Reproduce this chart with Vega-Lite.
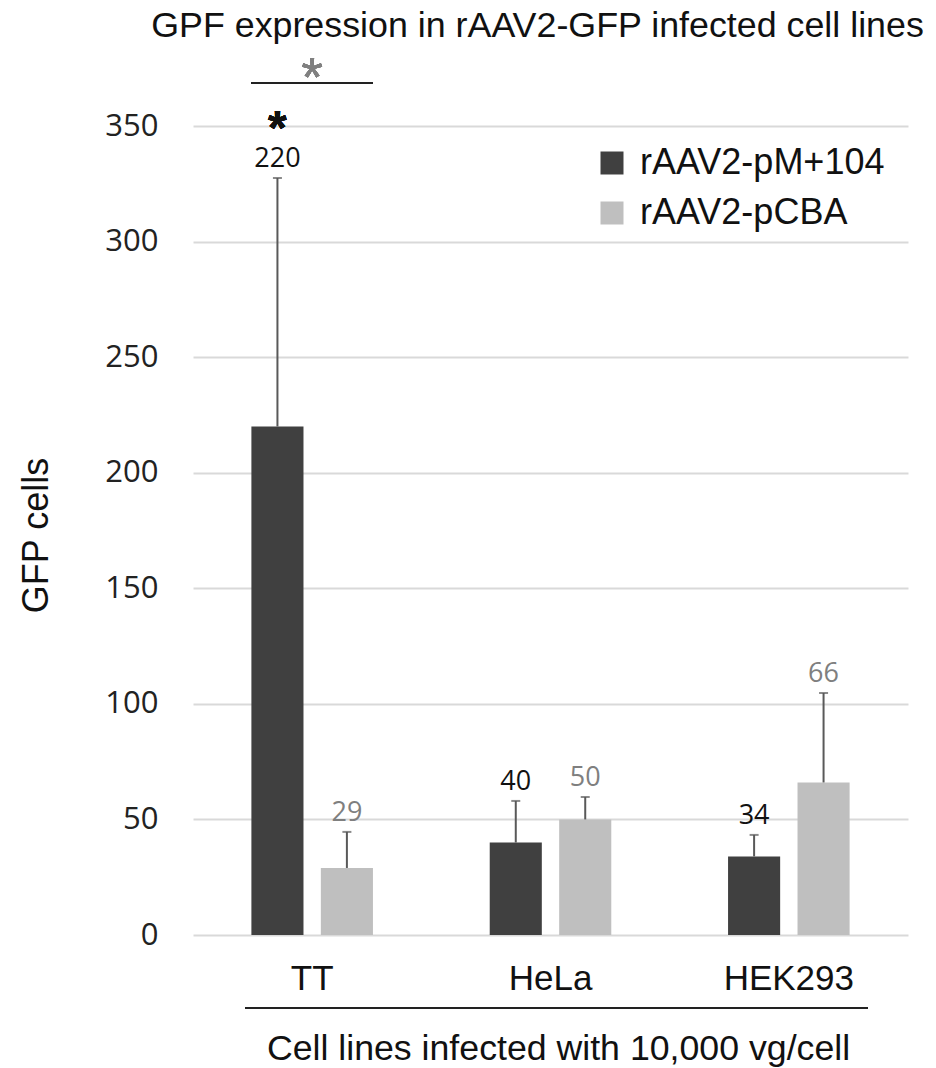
{
  "$schema": "https://vega.github.io/schema/vega-lite/v6.json",
  "width": 715,
  "height": 809,
  "autosize": {"type": "none"},
  "padding": {"left": 193, "top": 126, "right": 28, "bottom": 133},
  "background": "white",
  "title": {
    "text": "GPF expression in rAAV2-GFP infected cell lines",
    "font": "Liberation Sans",
    "fontSize": 35.8,
    "fontWeight": "normal",
    "color": "#111111",
    "anchor": "middle",
    "baseline": "alphabetic",
    "dx": -13,
    "offset": -22
  },
  "data": {
    "values": [
      {"cell": "TT", "series": "rAAV2-pM+104", "value": 220, "upper": 327.5},
      {"cell": "TT", "series": "rAAV2-pCBA", "value": 29, "upper": 44.6},
      {"cell": "HeLa", "series": "rAAV2-pM+104", "value": 40, "upper": 58},
      {"cell": "HeLa", "series": "rAAV2-pCBA", "value": 50, "upper": 59.7},
      {"cell": "HEK293", "series": "rAAV2-pM+104", "value": 34, "upper": 43.3},
      {"cell": "HEK293", "series": "rAAV2-pCBA", "value": 66, "upper": 104.7}
    ]
  },
  "layer": [
    {
      "mark": {"type": "bar"},
      "encoding": {
        "x": {
          "field": "cell", "type": "nominal", "sort": ["TT", "HeLa", "HEK293"],
          "title": "Cell lines infected with 10,000 vg/cell",
          "scale": {"paddingInner": 0.49, "paddingOuter": 0.245}
        },
        "xOffset": {
          "field": "series", "type": "nominal", "sort": ["rAAV2-pM+104", "rAAV2-pCBA"],
          "scale": {"paddingInner": 0.25, "paddingOuter": 0}
        },
        "y": {
          "field": "value", "type": "quantitative", "title": "GFP cells",
          "scale": {"domain": [0, 350], "nice": false},
          "axis": {"values": [0, 50, 100, 150, 200, 250, 300, 350]}
        },
        "color": {
          "field": "series", "type": "nominal", "sort": ["rAAV2-pM+104", "rAAV2-pCBA"],
          "scale": {"domain": ["rAAV2-pM+104", "rAAV2-pCBA"], "range": ["#404040", "#bfbfbf"]},
          "legend": {
            "title": null, "orient": "none", "legendX": 401, "legendY": 19,
            "symbolType": "square", "symbolSize": 529, "symbolStrokeWidth": 0,
            "labelFont": "Liberation Sans", "labelFontSize": 36, "labelColor": "#111111",
            "labelOffset": 10, "rowPadding": 14, "padding": 0, "labelLimit": 400
          }
        }
      }
    },
    {
      "mark": {"type": "rule", "color": "#595959", "strokeWidth": 2},
      "encoding": {
        "x": {"field": "cell", "type": "nominal", "sort": ["TT", "HeLa", "HEK293"], "title": "Cell lines infected with 10,000 vg/cell"},
        "xOffset": {"field": "series", "type": "nominal", "sort": ["rAAV2-pM+104", "rAAV2-pCBA"]},
        "y": {"field": "value", "type": "quantitative", "title": "GFP cells"},
        "y2": {"field": "upper"}
      }
    },
    {
      "mark": {"type": "tick", "color": "#595959", "thickness": 2, "size": 9},
      "encoding": {
        "x": {"field": "cell", "type": "nominal", "sort": ["TT", "HeLa", "HEK293"], "title": "Cell lines infected with 10,000 vg/cell"},
        "xOffset": {"field": "series", "type": "nominal", "sort": ["rAAV2-pM+104", "rAAV2-pCBA"]},
        "y": {"field": "upper", "type": "quantitative", "title": "GFP cells"}
      }
    },
    {
      "mark": {"type": "text", "font": "Open Sans", "fontSize": 27, "baseline": "alphabetic", "dy": -11},
      "encoding": {
        "x": {"field": "cell", "type": "nominal", "sort": ["TT", "HeLa", "HEK293"], "title": "Cell lines infected with 10,000 vg/cell"},
        "xOffset": {"field": "series", "type": "nominal", "sort": ["rAAV2-pM+104", "rAAV2-pCBA"]},
        "y": {"field": "upper", "type": "quantitative", "title": "GFP cells"},
        "text": {"field": "value", "type": "quantitative"},
        "color": {"condition": {"test": "datum.series === 'rAAV2-pM+104'", "value": "#111111"}, "value": "#7f7f7f"}
      }
    },
    {
      "mark": {"type": "rule", "color": "#222222", "strokeWidth": 2},
      "encoding": {
        "x": {"datum": "TT", "type": "nominal", "bandPosition": 0, "title": "Cell lines infected with 10,000 vg/cell"},
        "x2": {"datum": "TT", "bandPosition": 1},
        "y": {"datum": 368.6, "type": "quantitative", "title": "GFP cells"}
      }
    },
    {
      "mark": {"type": "text", "font": "Liberation Sans", "fontSize": 56, "baseline": "middle", "color": "#808080", "dy": 11},
      "encoding": {
        "x": {"datum": "TT", "type": "nominal", "title": "Cell lines infected with 10,000 vg/cell"},
        "y": {"datum": 375, "type": "quantitative", "title": "GFP cells"},
        "text": {"value": "*"}
      }
    },
    {
      "mark": {"type": "text", "font": "Liberation Sans", "fontSize": 48, "fontWeight": "bold", "baseline": "middle", "color": "#111111", "dy": 10},
      "encoding": {
        "x": {"datum": "TT", "type": "nominal", "title": "Cell lines infected with 10,000 vg/cell"},
        "xOffset": {"datum": "rAAV2-pM+104", "type": "nominal"},
        "y": {"datum": 352.6, "type": "quantitative", "title": "GFP cells"},
        "text": {"value": "*"}
      }
    },
    {
      "mark": {"type": "rule", "color": "#222222", "strokeWidth": 2},
      "encoding": {
        "x": {"datum": "TT", "type": "nominal", "bandPosition": -0.05, "title": "Cell lines infected with 10,000 vg/cell"},
        "x2": {"datum": "HEK293", "bandPosition": 1.15},
        "y": {"datum": -31.6, "type": "quantitative", "title": "GFP cells"}
      }
    }
  ],
  "config": {
    "view": {"stroke": null},
    "axisY": {
      "grid": true, "gridColor": "#d9d9d9", "gridWidth": 2,
      "domain": false, "ticks": false, "tickSize": 0,
      "labelFont": "Open Sans", "labelFontSize": 31, "labelColor": "#222222", "labelPadding": 35,
      "titleFont": "Liberation Sans", "titleFontSize": 36, "titleFontWeight": "normal", "titleColor": "#111111",
      "titleX": -146, "titleY": 409, "titleBaseline": "alphabetic", "titleAngle": 270
    },
    "axisX": {
      "grid": false, "domain": false, "ticks": false, "tickSize": 0, "labelAngle": 0,
      "labelFont": "Liberation Sans", "labelFontSize": 35, "labelColor": "#111111",
      "labelBaseline": "alphabetic", "labelPadding": 54,
      "titleFont": "Liberation Sans", "titleFontSize": 35.7, "titleFontWeight": "normal", "titleColor": "#111111",
      "titleX": 365, "titleY": 124, "titleBaseline": "alphabetic"
    }
  }
}
